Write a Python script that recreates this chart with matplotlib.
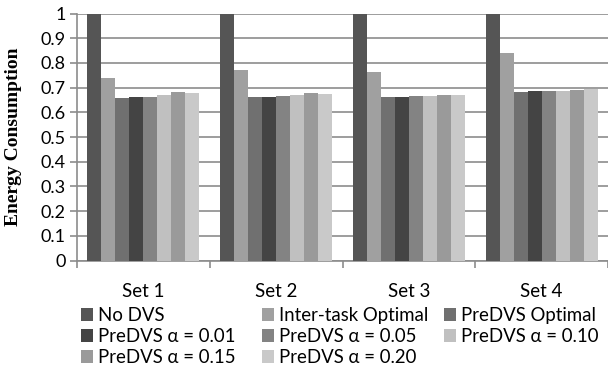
import matplotlib
matplotlib.use('Agg')
import matplotlib.pyplot as plt
import numpy as np

sets = ['Set 1', 'Set 2', 'Set 3', 'Set 4']
series_names = ['No DVS', 'Inter-task Optimal', 'PreDVS Optimal',
                'PreDVS α = 0.01', 'PreDVS α = 0.05', 'PreDVS α = 0.10',
                'PreDVS α = 0.15', 'PreDVS α = 0.20']

no_dvs = [1.0, 1.0, 1.0, 1.0]
inter_task = [0.740, 0.772, 0.764, 0.839]
predvs_opt = [0.659, 0.661, 0.660, 0.684]
alpha_001 = [0.660, 0.661, 0.663, 0.686]
alpha_005 = [0.663, 0.665, 0.665, 0.688]
alpha_010 = [0.671, 0.671, 0.668, 0.688]
alpha_015 = [0.683, 0.680, 0.671, 0.691]
alpha_020 = [0.679, 0.676, 0.670, 0.695]

series = [no_dvs, inter_task, predvs_opt, alpha_001, alpha_005, alpha_010, alpha_015, alpha_020]
colors = ['#555555', '#a0a0a0', '#707070', '#444444', '#838383', '#c0c0c0', '#9a9a9a', '#c9c9c9']

plt.rcParams['font.family'] = ['Lato', 'DejaVu Sans']

fig = plt.figure(figsize=(6.08, 3.74), dpi=100)
ax = fig.add_axes([77 / 608, 1 - 260.5 / 374, 531 / 608, 247 / 374])

n = len(series)
width = 1.0 / (n + 1.5)
x = np.arange(len(sets))
handles = []
for i, (vals, c) in enumerate(zip(series, colors)):
    offs = -0.5 + 0.75 * width + (i + 0.5) * width
    h = ax.bar(x + offs, vals, width, color=c, zorder=3, linewidth=0)
    handles.append(h)

ax.set_xlim(-0.5, len(sets) - 0.5)
ax.set_ylim(0, 1)
ax.set_yticks(np.arange(0, 1.01, 0.1))
ax.set_yticklabels(['0', '0.1', '0.2', '0.3', '0.4', '0.5', '0.6', '0.7', '0.8', '0.9', '1'])
ax.yaxis.grid(True, color='#8c8c8c', linewidth=1.2, zorder=0)
ax.set_axisbelow(True)

ax.set_xticks(x)
ax.set_xticklabels(sets)
ax.set_xticks(np.arange(-0.5, len(sets) + 0.5, 1.0), minor=True)
ax.tick_params(axis='x', which='major', length=0, pad=16, labelsize=13.5)
ax.tick_params(axis='x', which='minor', length=5, color='#8c8c8c', width=1.2)
ax.tick_params(axis='y', length=5, color='#8c8c8c', width=1.2, labelsize=13, pad=3)

for s in ['top', 'right']:
    ax.spines[s].set_visible(False)
ax.spines['left'].set_color('#8c8c8c')
ax.spines['left'].set_linewidth(1.2)
ax.spines['bottom'].set_color('#8c8c8c')
ax.spines['bottom'].set_linewidth(1.2)

ax.set_ylabel('Energy Consumption', fontfamily='Liberation Serif', fontweight='bold',
              fontsize=14)
ax.yaxis.set_label_coords(-0.104, 0.5)

# Excel lays the legend out row by row in equal-width columns
cols = [[0, 3, 6], [1, 4, 7], [2, 5]]
col_x = [81, 262, 444]
for idx, cx in zip(cols, col_x):
    leg = fig.legend([handles[i] for i in idx], [series_names[i] for i in idx],
                     loc='upper left', bbox_to_anchor=(cx / 608, 1 - 307 / 374),
                     frameon=False, fontsize=13.4, handlelength=0.65, handleheight=0.65,
                     handletextpad=0.25, labelspacing=0.22, borderpad=0, borderaxespad=0)

plt.savefig('out.png', dpi=100)
